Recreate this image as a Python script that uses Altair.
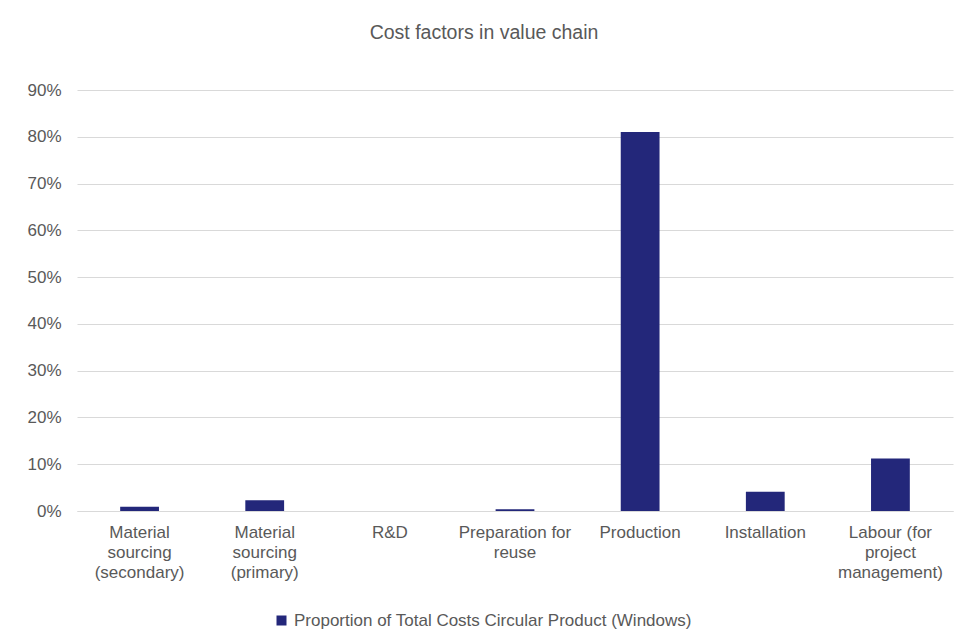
import altair as alt
import pandas as pd

categories = [
    "Material sourcing (secondary)",
    "Material sourcing (primary)",
    "R&D",
    "Preparation for reuse",
    "Production",
    "Installation",
    "Labour (for project management)",
]
wrapped_labels = [
    "Material|sourcing|(secondary)",
    "Material|sourcing|(primary)",
    "R&D",
    "Preparation for|reuse",
    "Production",
    "Installation",
    "Labour (for|project|management)",
]
values = [0.009, 0.023, 0.0, 0.004, 0.81, 0.041, 0.112]
series_name = "Proportion of Total Costs Circular Product (Windows)"

df = pd.DataFrame({"category": categories, "value": values, "series": series_name})

label_map = ", ".join(f"'{c}': '{w}'" for c, w in zip(categories, wrapped_labels))
label_expr = f"split({{{label_map}}}[datum.label], '|')"

FONT = "Liberation Sans"
GREY = "#595959"

chart = (
    alt.Chart(df)
    .mark_bar(color="#23277a")
    .encode(
        x=alt.X(
            "category:N",
            sort=categories,
            title=None,
            scale=alt.Scale(paddingInner=0.69, paddingOuter=0.345),
            axis=alt.Axis(
                labelAngle=0,
                labelExpr=label_expr,
                labelFontSize=17,
                labelColor=GREY,
                labelFont=FONT,
                labelLineHeight=20,
                labelPadding=13,
                ticks=False,
                domainColor="#d9d9d9",
                labelLimit=200,
                grid=False,
            ),
        ),
        y=alt.Y(
            "value:Q",
            title=None,
            scale=alt.Scale(domain=[0, 0.9], nice=False),
            axis=alt.Axis(
                format=".0%",
                values=[i / 10 for i in range(10)],
                labelFontSize=17,
                labelColor=GREY,
                labelFont=FONT,
                labelPadding=16,
                ticks=False,
                domain=False,
                gridColor="#d9d9d9",
            ),
        ),
        fill=alt.Fill(
            "series:N",
            scale=alt.Scale(range=["#23277a"]),
            legend=alt.Legend(
                title=None,
                orient="none",
                legendX=196,
                legendY=522,
                symbolType="square",
                symbolSize=100,
                symbolStrokeWidth=0,
                labelFontSize=17,
                labelColor=GREY,
                labelFont=FONT,
                labelLimit=600,
                symbolOffset=0,
            ),
        ),
    )
    .properties(
        width=876,
        height=421,
        background="white",
        title=alt.TitleParams(
            "Cost factors in value chain",
            fontSize=19.5,
            font=FONT,
            fontWeight="normal",
            color=GREY,
            anchor="middle",
            dx=-31,
            offset=38,
        ),
        autosize=alt.AutoSizeParams(type="none"),
        padding={"left": 69, "top": 82, "right": 1, "bottom": 119},
    )
    .configure_view(stroke="transparent", strokeWidth=0)
)

chart.save("out.html", embed_options={"renderer": "svg", "actions": False})
